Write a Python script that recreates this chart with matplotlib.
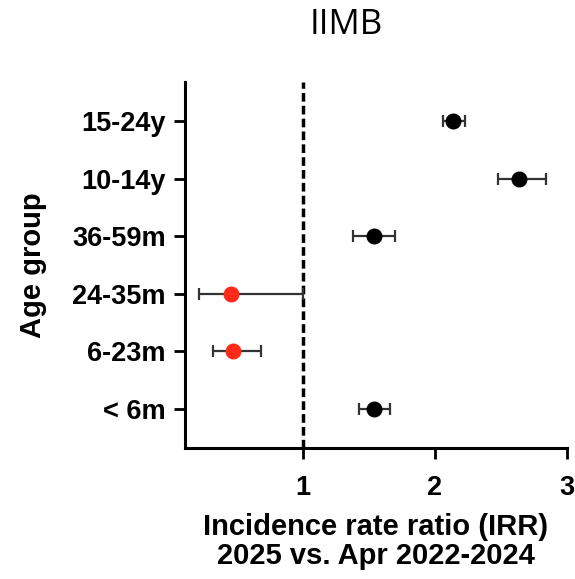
import matplotlib
matplotlib.use('Agg')
import matplotlib.pyplot as plt

# age groups, bottom to top
groups = ['< 6m', '6-23m', '24-35m', '36-59m', '10-14y', '15-24y']
irr = [1.54, 0.47, 0.45, 1.54, 2.64, 2.14]
ci_lo = [1.42, 0.32, 0.21, 1.38, 2.48, 2.06]
ci_hi = [1.66, 0.68, 1.00, 1.70, 2.84, 2.23]
colors = ['black', '#ff2a1a', '#ff2a1a', 'black', 'black', 'black']
xticks = [1, 2, 3]

plt.rcParams['font.family'] = ['Liberation Sans', 'DejaVu Sans']

fig = plt.figure(figsize=(5.75, 5.79), dpi=100)
ax = fig.add_axes([0.322, 0.226, 0.664, 0.632])

for i in range(len(groups)):
    ax.errorbar(irr[i], i, xerr=[[irr[i] - ci_lo[i]], [ci_hi[i] - irr[i]]],
                fmt='none', ecolor='#333333', elinewidth=1.6, capsize=4, capthick=1.6, zorder=2)
    ax.plot(irr[i], i, 'o', color=colors[i], markersize=10.5, zorder=3)

ax.axvline(1, color='black', lw=2.5, ls=(0, (2.5, 1.2)), zorder=1)

ax.set_xlim(0.106, 3.0)
ax.set_ylim(-0.68, len(groups) - 1 + 0.68)
ax.set_xticks(xticks)
ax.set_xticklabels([str(t) for t in xticks], fontweight='bold', fontsize=19.5)
ax.set_yticks(range(len(groups)))
ax.set_yticklabels(groups, fontweight='bold', fontsize=19.5)
ax.tick_params(width=2, length=8, pad=6)
ax.tick_params(axis='x', pad=11)

for s in ['top', 'right']:
    ax.spines[s].set_visible(False)
for s in ['left', 'bottom']:
    ax.spines[s].set_linewidth(2.2)

ax.set_xlabel('Incidence rate ratio (IRR)\n2025 vs. Apr 2022-2024', fontweight='bold', fontsize=21,
              labelpad=9, linespacing=1.05)
ax.set_ylabel('Age group', fontweight='bold', fontsize=21, labelpad=18)

fig.text(0.603, 0.956, 'IIMB', ha='center', va='center', fontsize=25, family='Open Sans')

fig.savefig('out.png', dpi=100)
